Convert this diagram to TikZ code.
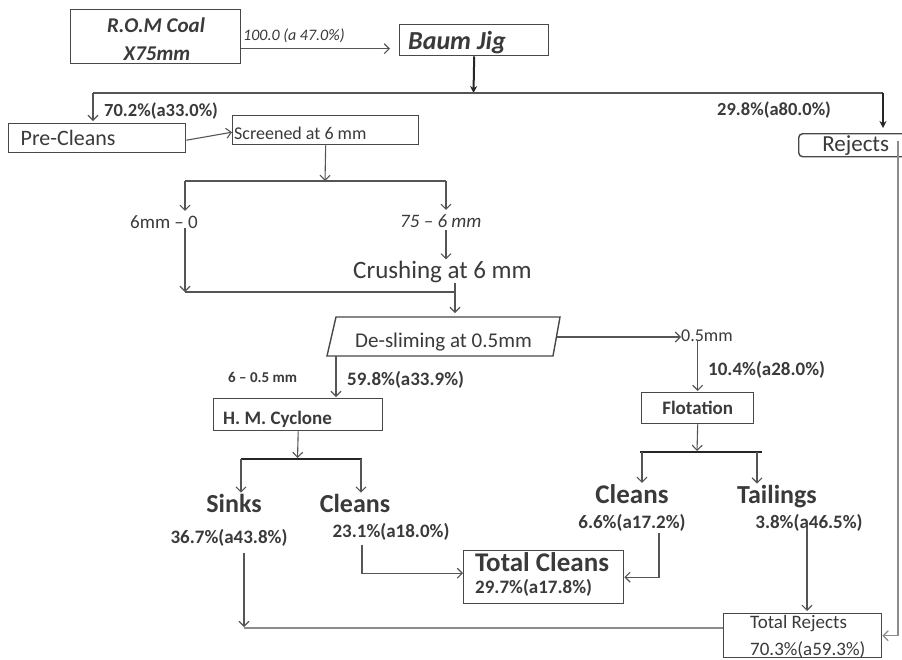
\documentclass[tikz,border=0pt]{standalone}
\usepackage{fontspec}
\setmainfont{Carlito}
\usetikzlibrary{arrows.meta,positioning,calc}
\definecolor{flowink}{RGB}{58,58,58}
\definecolor{flowedge}{RGB}{72,72,72}
\definecolor{flowwire}{RGB}{85,85,85}
\definecolor{flowpale}{RGB}{140,140,140}

\begin{document}
\begin{tikzpicture}[x=1pt, y=-1pt,
  box/.style={draw=flowedge, line width=1.4pt, inner sep=0pt, anchor=north west},
  txt/.style={inner sep=0pt, text=flowink, font=\fontsize{#1}{#1}\selectfont},
  btxt/.style={inner sep=0pt, text=flowink, font=\fontsize{#1}{#1}\selectfont\bfseries},
  itxt/.style={inner sep=0pt, text=flowink, font=\fontsize{#1}{#1}\selectfont\itshape},
  bitxt/.style={inner sep=0pt, text=flowink, font=\fontsize{#1}{#1}\selectfont\bfseries\itshape},
  flow/.style={draw=flowwire, line width=1.1pt, -{Straight Barb[length=5pt,width=10pt]}},
  heavy/.style={draw=black!85, line width=2pt, -{Stealth[length=7pt,width=7pt]}},
  wire/.style={draw=flowwire, line width=1.1pt},
  bar/.style={draw=black!85, line width=2.2pt},
  pale/.style={draw=flowpale, line width=1.2pt}]
\useasboundingbox (0,0) rectangle (902,659);
\fill[white] (0,0) rectangle (902,659);

% feed and jig
\node[box, minimum width=170pt, minimum height=54pt] (rom) at (70,9) {};
\node[bitxt=21, anchor=base] (romA) at (156,32) {R.O.M Coal};
\node[bitxt=21, anchor=base] (romB) at (157,60) {X75mm};
\node[itxt=16, anchor=base west] (feed) at (243,40) {100.0 (a 47.0\%)};
\node[box, minimum width=149pt, minimum height=31pt] (jig) at (399,24) {};
\node[bitxt=26, anchor=base west] (jigT) at (408,49) {Baum Jig};
\draw[flow, shorten >=9pt] ($(rom.east)+(0,12)$) -- ($(jig.west)+(0,8.5)$);

\coordinate (split) at (473.5,93);
\coordinate (splitL) at (93,93);
\coordinate (splitR) at (883,93);
\draw[heavy] (jig.south) -- (split);
\draw[wire, line width=1.4pt] (splitL) -- (splitR);

\node[box, minimum width=177pt, minimum height=29pt, inner xsep=12pt, text width=153pt, align=left,
  txt=22] (pre) at (8,123) {Pre-Cleans};
\node[box, minimum width=114pt, minimum height=23pt, rounded corners=4pt, txt=23] (rej) at (798,133) {Rejects};
\draw[flow, shorten >=2pt] (splitL) -- (splitL |- pre.north);
\draw[heavy, shorten >=5pt] (splitR) -- (splitR |- rej.north);
\node[btxt=18.5, anchor=base west] (preV) at (104,116) {70.2\%(a33.0\%)};
\node[btxt=18.5, anchor=base west] (rejV) at (717,115) {29.8\%(a80.0\%)};

% screening and crushing
\node[box, minimum width=186pt, minimum height=29pt] (scr) at (232,115) {};
\node[txt=18, anchor=base west] (scrT) at (234,139) {Screened at 6 mm};
\draw[flow] ($(pre.east)+(0,2)$) -- ($(scr.west)+(0,2)$);

\coordinate (sieve) at (325,181);
\coordinate (fineL) at (185,181);
\coordinate (coarseR) at (446,181);
\draw[flow] (scr.south) -- (sieve);
\draw[wire] (fineL) -- (coarseR);
\node[txt=19, anchor=base west] (fine) at (130,228) {6mm \textendash{} 0};
\node[itxt=19, anchor=base west] (coarse) at (400,227) {75 \textendash{} 6 mm};
\draw[flow, shorten >=4pt] (fineL) -- (fineL |- fine.north);
\draw[flow, shorten >=4pt] (coarseR) -- (coarseR |- coarse.north);
\node[txt=25, anchor=base west] (crush) at (353,278) {Crushing at 6 mm};
\draw[flow, shorten >=1pt] ($(coarse.south -| coarseR)+(0,3)$) -- (coarseR |- crush.north);

\coordinate (merge) at (455,292);
\draw[flow] (fineL |- fine.south) -- (fineL |- merge);
\draw[wire] (fineL |- merge) -- (merge);

% de-sliming
\coordinate (dsA) at (327,356);
\coordinate (dsB) at (336,317);
\coordinate (dsC) at (560,317);
\coordinate (dsD) at (553,356);
\draw[box] (dsA) -- (dsB) -- (dsC) -- (dsD) -- cycle;
\node[txt=21, anchor=base west] (ds) at (355,347) {De-sliming at 0.5mm};
\draw[flow, shorten >=4pt] (crush.south -| merge) -- (merge |- dsB);
\coordinate (dsR) at (557,337);
\coordinate (dsFoot) at (336,356);

% flotation branch
\node[txt=18, anchor=base west] (slime) at (681,341) {0.5mm};
\draw[flow] (dsR) -- (dsR -| slime.west);
\node[box, minimum width=112pt, minimum height=31pt, btxt=19] (flot) at (641,392) {Flotation};
\draw[flow, shorten >=1pt] (slime.south -| flot.north) -- (flot.north);
\node[btxt=19, anchor=base west] (slimeV) at (708,375) {10.4\%(a28.0\%)};

\coordinate (fbar) at (697,452);
\coordinate (fbarL) at (640,452);
\coordinate (fbarR) at (762,452);
\coordinate (fdropL) at (642,452);
\coordinate (fdropR) at (757,452);
\draw[flow, shorten >=1pt] (flot.south) -- (fbar);
\draw[bar] (fbarL) -- (fbarR);
\node[btxt=27, anchor=base] (fcl) at (632,503) {Cleans};
\node[btxt=26, anchor=base] (tail) at (777,503) {Tailings};
\draw[flow, shorten >=1pt] (fdropL) -- (fdropL |- fcl.north);
\draw[flow, shorten >=1pt] (fdropR) -- (fdropR |- tail.north);
\node[btxt=19, anchor=base] (fclV) at (632,528) {6.6\%(a17.2\%)};
\node[btxt=19, anchor=base] (tailV) at (809,528) {3.8\%(a46.5\%)};

% heavy medium cyclone branch
\node[box, minimum width=169pt, minimum height=32pt] (hmc) at (213,398) {};
\node[btxt=19, anchor=base west] (hmcT) at (223,424) {H. M. Cyclone};
\draw[flow, shorten >=1pt] (dsFoot) -- (dsFoot |- hmc.north);
\node[btxt=15, anchor=base west] (hmcS) at (228,382) {6 \textendash{} 0.5 mm};
\node[btxt=19, anchor=base west] (hmcV) at (347,385) {59.8\%(a33.9\%)};

\coordinate (hbar) at (297.5,459);
\coordinate (hbarL) at (241,459);
\coordinate (hbarR) at (362,459);
\draw[flow, shorten >=1pt] (hmc.south) -- (hbar);
\draw[bar] (hbarL) -- (hbarR);
\node[btxt=26, anchor=base] (sink) at (234,512) {Sinks};
\node[btxt=26, anchor=base] (hcl) at (355,512) {Cleans};
\draw[flow, shorten >=1pt] (hbarL) -- (hbarL |- sink.north);
\draw[flow, shorten >=1pt] ($(hbarR)+(-1,0)$) -- ($(hbarR |- hcl.north)+(-1,0)$);
\node[btxt=19, anchor=base] (sinkV) at (229,543) {36.7\%(a43.8\%)};
\node[btxt=19, anchor=base] (hclV) at (391,537) {23.1\%(a18.0\%)};

% totals
\node[box, minimum width=160pt, minimum height=53pt] (tc) at (463,550) {};
\node[btxt=27, anchor=base west] (tcT) at (475,571) {Total Cleans};
\node[btxt=19, anchor=base west] (tcV) at (475,593) {29.7\%(a17.8\%)};
\node[box, minimum width=158pt, minimum height=44pt] (tr) at (723,613) {};
\node[txt=19, anchor=base west] (trT) at (750,628) {Total Rejects};
\node[txt=19, anchor=base west] (trV) at (750,655) {70.3\%(a59.3\%)};

\coordinate (hcDrop) at (362,545);
\coordinate (fcDrop) at (659,533);
\coordinate (tDrop) at (807,527);
\coordinate (sDrop) at (244,553);
\coordinate (rJoin) at (244,628);
\coordinate (rejDrop) at (898,141);
\draw[flow] (hcDrop) |- ($(tc.west)+(0,-4)$);
\draw[flow] (fcDrop) |- (tc.east);
\draw[flow, shorten >=2pt] (tDrop) -- (tDrop |- tr.north);
\draw[flow, shorten >=1pt] (sDrop) -- (rJoin);
\draw[pale] (rJoin) -- (rJoin -| tr.west);
\draw[pale, -{Straight Barb[length=5pt,width=10pt]}] (rejDrop) |- (tr.east);
\end{tikzpicture}
\end{document}
